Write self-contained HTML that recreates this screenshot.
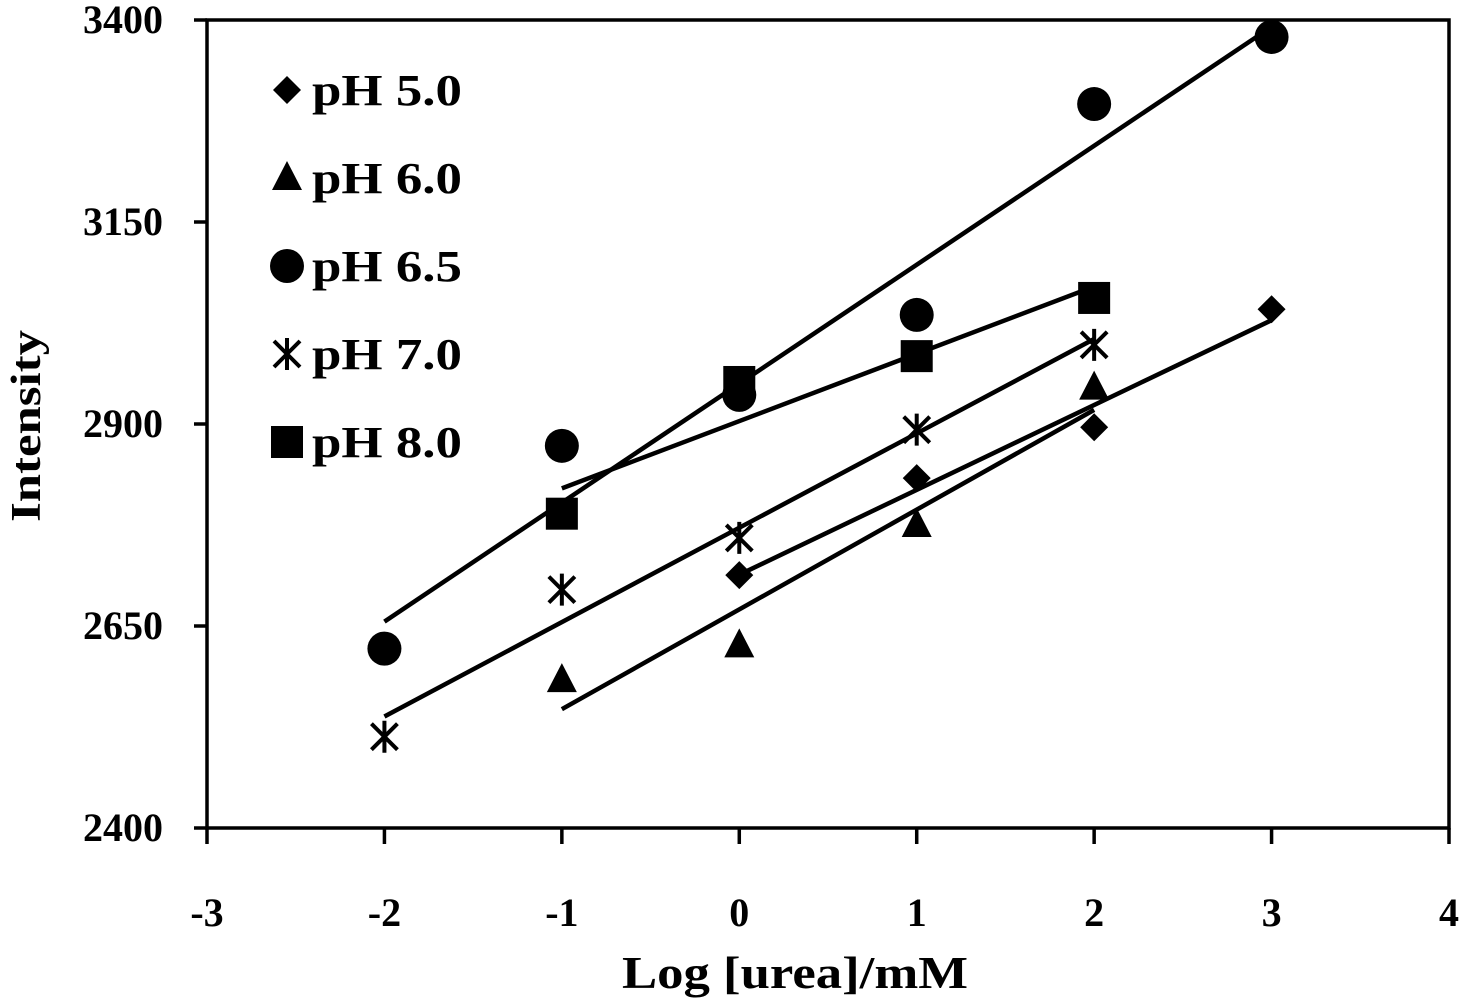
<!DOCTYPE html>
<html><head><meta charset="utf-8"><style>
body{margin:0;background:#fff}
svg{display:block;font-family:"Liberation Serif",serif;font-weight:bold}
</style></head><body>
<svg id="chart" width="1459" height="1000"></svg>
<script>
const xTicks=[-3,-2,-1,0,1,2,3,4];
const yTicks=[2400,2650,2900,3150,3400];
const seriesNames=["pH 5.0","pH 6.0","pH 6.5","pH 7.0","pH 8.0"];
const seriesMarkers=["diamond","triangle","circle","star","square"];
const x50=[0,1,2,3], y50=[2713,2833,2896,3042];
const x60=[-1,0,1,2], y60=[2583,2626,2775,2945];
const x65=[-2,-1,0,1,2,3], y65=[2622,2873,2936,3035,3296,3379];
const x70=[-2,-1,0,1,2], y70=[2513,2695,2759,2893,2998];
const x80=[-1,0,1,2], y80=[2789,2952,2984,3056];
const seriesX=[x50,x60,x65,x70,x80], seriesY=[y50,y60,y65,y70,y80];

const NS="http://www.w3.org/2000/svg", svg=document.getElementById('chart');
const L=207,R=1449,T=20,B=828;
const sx=v=>L+(v+3)/7*(R-L), sy=v=>B-(v-2400)/1000*(B-T);
function el(t,a,p){const e=document.createElementNS(NS,t);for(const k in a)e.setAttribute(k,a[k]);(p||svg).appendChild(e);return e;}
const frame=el('rect',{x:L,y:T,width:R-L,height:B-T,fill:'none',stroke:'#000','stroke-width':3.5});


xTicks.forEach(v=>{
  const t=el('line',{x1:sx(v),x2:sx(v),y1:B,y2:B+16,stroke:'#000','stroke-width':3.5});
  
  
  const lb=el('text',{x:sx(v),y:926,'font-size':40,'text-anchor':'middle'});lb.textContent=v;
  
  
});
yTicks.forEach(v=>{
  const t=el('line',{x1:L-13,x2:L,y1:sy(v),y2:sy(v),stroke:'#000','stroke-width':3.5});
  
  
  const lb=el('text',{x:163,y:sy(v)+13,'font-size':40,'text-anchor':'end'});lb.textContent=v;
  
  
});
const xt=el('text',{x:622,y:988,'font-size':46,textLength:346,lengthAdjust:'spacingAndGlyphs'});xt.textContent='Log [urea]/mM';


const yt=el('text',{x:0,y:0,'font-size':42,textLength:192,lengthAdjust:'spacingAndGlyphs',transform:'translate(40,522) rotate(-90)'});yt.textContent='Intensity';



function marker(type,x,y,g){
  if(type==='diamond')el('polygon',{points:`${x},${y-14} ${x+14},${y} ${x},${y+14} ${x-14},${y}`,fill:'#000'},g);
  else if(type==='triangle')el('polygon',{points:`${x},${y-17} ${x+15},${y+12} ${x-15},${y+12}`,fill:'#000'},g);
  else if(type==='circle')el('circle',{cx:x,cy:y,r:17,fill:'#000'},g);
  else if(type==='square')el('rect',{x:x-16,y:y-16,width:32,height:32,fill:'#000'},g);
  else{const s=13;
    el('path',{d:`M${x-s} ${y-s}L${x+s} ${y+s}M${x-s} ${y+s}L${x+s} ${y-s}M${x} ${y-s-3}L${x} ${y+s+3}`,stroke:'#000','stroke-width':4,fill:'none'},g);}
}
seriesX.forEach((xs,i)=>{
  const g=el('g',{});
  
  
  const n=xs.length,ys=seriesY[i];
  const mx=xs.reduce((a,b)=>a+b)/n,my=ys.reduce((a,b)=>a+b)/n;
  let num=0,den=0;xs.forEach((x,j)=>{num+=(x-mx)*(ys[j]-my);den+=(x-mx)**2;});
  const m=num/den,b=my-m*mx,x0=xs[0],x1=xs[n-1];
  const ln=el('line',{x1:sx(x0),y1:sy(m*x0+b),x2:sx(x1),y2:sy(m*x1+b),stroke:'#000','stroke-width':4.5},g);
  
  
  xs.forEach((x,j)=>marker(seriesMarkers[i],sx(x),sy(ys[j]),g));
});
seriesNames.forEach((n,i)=>{
  const g=el('g',{});
  
  
  const y=90+i*88;
  marker(seriesMarkers[i],287,y,g);
  const t=el('text',{x:312,y:y+15,'font-size':44,textLength:150,lengthAdjust:'spacingAndGlyphs'},g);t.textContent=n;
});
</script>
</body></html>
